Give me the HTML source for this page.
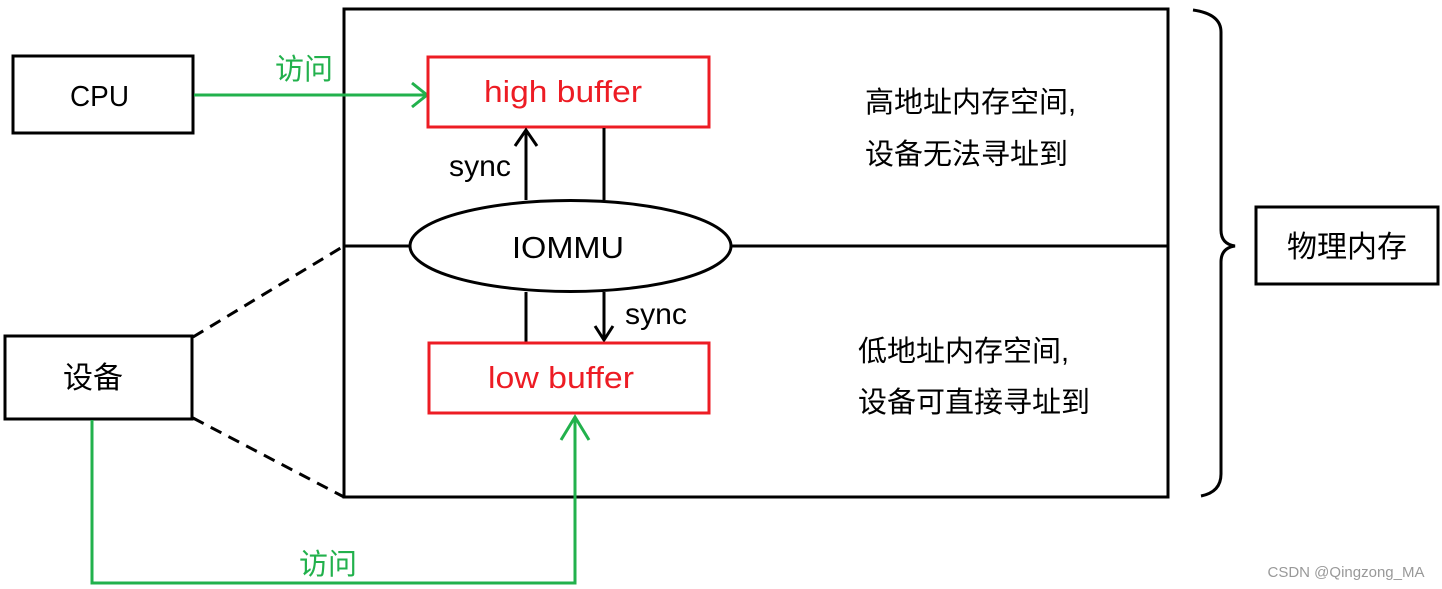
<!DOCTYPE html>
<html><head><meta charset="utf-8"><style>
html,body{margin:0;padding:0;background:#fff;width:1442px;height:589px;overflow:hidden}
text{font-family:"Liberation Sans","Noto Sans CJK SC",sans-serif}
</style></head><body>
<svg width="1442" height="589" viewBox="0 0 1442 589" xmlns="http://www.w3.org/2000/svg">
<rect x="0" y="0" width="1442" height="589" fill="#fff"/>
<rect x="344" y="9" width="824" height="488" fill="none" stroke="#000" stroke-width="3"/>
<line x1="344" y1="246" x2="410" y2="246" stroke="#000" stroke-width="3"/>
<line x1="731" y1="246" x2="1168" y2="246" stroke="#000" stroke-width="3"/>
<rect x="13" y="56" width="180" height="77" fill="none" stroke="#000" stroke-width="3"/>
<text x="70" y="106" font-size="29" textLength="59" lengthAdjust="spacingAndGlyphs" fill="#000">CPU</text>
<line x1="194" y1="95" x2="426" y2="95" stroke="#22b14c" stroke-width="3"/>
<polyline points="412,83 427,95 412,107" fill="none" stroke="#22b14c" stroke-width="3"/>
<text x="275" y="79" font-size="29" fill="#22b14c">访问</text>
<rect x="428" y="57" width="281" height="70" fill="none" stroke="#ed1c24" stroke-width="3"/>
<text x="484" y="102" font-size="31" textLength="158" lengthAdjust="spacingAndGlyphs" fill="#ed1c24">high buffer</text>
<ellipse cx="570.5" cy="246" rx="160.5" ry="45.5" fill="#fff" stroke="#000" stroke-width="3"/>
<text x="512" y="258" font-size="31" textLength="112" lengthAdjust="spacingAndGlyphs" fill="#000">IOMMU</text>
<line x1="526" y1="200" x2="526" y2="130" stroke="#000" stroke-width="3"/>
<polyline points="515,146 526,130 537,146" fill="none" stroke="#000" stroke-width="3"/>
<line x1="604" y1="128" x2="604" y2="200" stroke="#000" stroke-width="3"/>
<text x="449" y="176" font-size="30" textLength="62" lengthAdjust="spacingAndGlyphs" fill="#000">sync</text>
<line x1="526" y1="292" x2="526" y2="342" stroke="#000" stroke-width="3"/>
<line x1="604" y1="292" x2="604" y2="340" stroke="#000" stroke-width="3"/>
<polyline points="595,326 604,340 613,326" fill="none" stroke="#000" stroke-width="3"/>
<text x="625" y="324" font-size="30" textLength="62" lengthAdjust="spacingAndGlyphs" fill="#000">sync</text>
<rect x="429" y="343" width="280" height="70" fill="none" stroke="#ed1c24" stroke-width="3"/>
<text x="488" y="388" font-size="31" textLength="146" lengthAdjust="spacingAndGlyphs" fill="#ed1c24">low buffer</text>
<rect x="5" y="336" width="187" height="83" fill="none" stroke="#000" stroke-width="3"/>
<text x="63" y="388" font-size="30" fill="#000">设备</text>
<line x1="193" y1="337" x2="344" y2="246" stroke="#000" stroke-width="3" stroke-dasharray="12,8"/>
<line x1="193" y1="418" x2="344" y2="497" stroke="#000" stroke-width="3" stroke-dasharray="12,8"/>
<polyline points="92,420 92,583 575,583 575,417" fill="none" stroke="#22b14c" stroke-width="3"/>
<polyline points="561,440 575,417 589,440" fill="none" stroke="#22b14c" stroke-width="3"/>
<text x="299" y="574" font-size="29" fill="#22b14c">访问</text>
<text x="865" y="112" font-size="29" fill="#000">高地址内存空间,</text>
<text x="865" y="164" font-size="29" fill="#000">设备无法寻址到</text>
<text x="858" y="361" font-size="29" fill="#000">低地址内存空间,</text>
<text x="858" y="412" font-size="29" fill="#000">设备可直接寻址到</text>
<path d="M1193,10 Q1221,14 1221,32 L1221,230 Q1221,244 1235,246 Q1221,248 1221,262 L1221,474 Q1221,492 1201,496" fill="none" stroke="#000" stroke-width="3"/>
<rect x="1256" y="207" width="182" height="77" fill="none" stroke="#000" stroke-width="3"/>
<text x="1287" y="257" font-size="30" fill="#000">物理内存</text>
<text x="1346" y="577" font-size="15" text-anchor="middle" fill="#999">CSDN @Qingzong_MA</text>
</svg>
</body></html>
